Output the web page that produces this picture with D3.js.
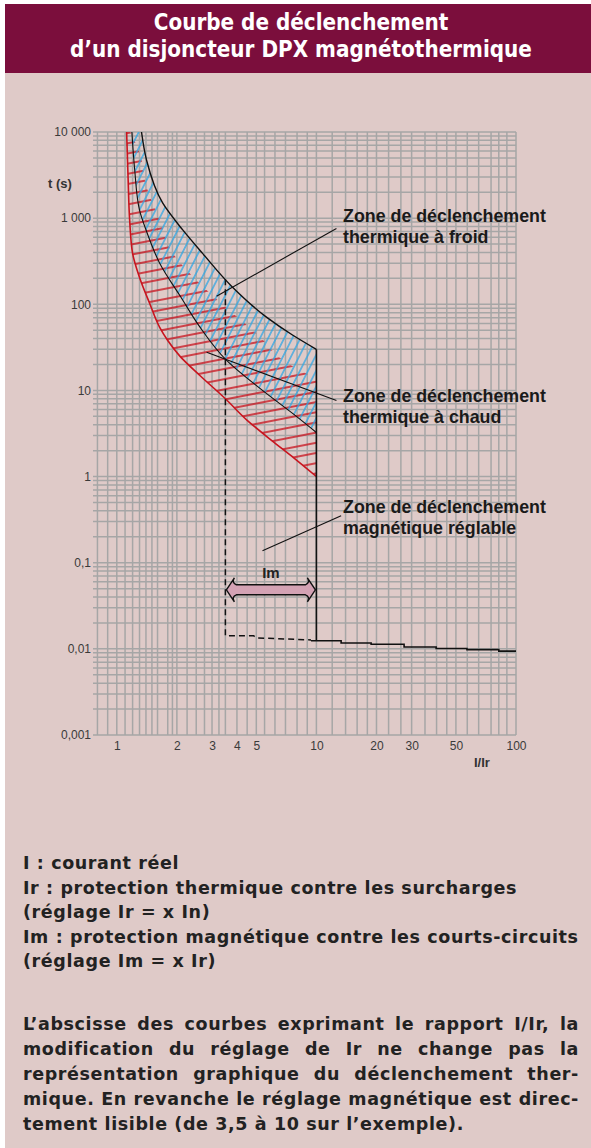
<!DOCTYPE html>
<html>
<head>
<meta charset="utf-8">
<script src="https://cdn.jsdelivr.net/npm/d3@7"></script>
<style>
  body { margin: 0; background: #fff; }
  svg { display: block; }
</style>
</head>
<body>
<script>
// courbe de declenchement DPX - log/log

var W = 591, H = 1148;

// ticks
var yTicks = [0.001, 0.01, 0.1, 1, 10, 100, 1000, 10000];
var xTicks = [1, 2, 3, 4, 5, 10, 20, 30, 50, 100];
var gridX = [0.8, 0.9, 1, 1.1, 1.2, 1.3, 1.4, 1.5, 1.6, 1.8, 1.9, 2, 2.25, 2.5, 2.75, 3, 3.25, 3.5, 4, 4.5, 5, 5.5, 6.2, 7, 8, 9,
             10, 12, 14, 16, 18, 20, 23, 26.5, 30, 35, 40, 45, 50, 57, 65, 75, 82, 90, 100];

// thermique a froid (limite haute, noire)
var coldI = [1.33, 1.41, 1.70, 2.14, 2.69, 3.8, 5.62, 7.59, 10];
var coldT = [10000, 4700, 1490, 730, 390, 158, 71, 44, 30];
// courbe intermediaire (noire)
var midI = [1.19, 1.23, 1.30, 1.41, 1.64, 2.1, 2.6, 3.55, 5.37, 7.94, 10];
var midT = [10000, 3600, 1240, 700, 300, 120, 55, 22.3, 10, 5.0, 3.25];
// thermique a chaud (limite basse, rouge)
var hotI = [1.12, 1.14, 1.16, 1.20, 1.30, 1.46, 1.64, 1.8, 2.07, 2.6, 3.5, 4.5, 6.0, 7.7, 10];
var hotT = [10000, 2770, 950, 390, 205, 103, 54, 38, 25, 15, 8, 4.5, 2.6, 1.65, 1.0];
// bord droit du hachurage rouge
var hotEdgeI = [1.17, 1.30, 1.41, 1.64, 1.91, 2.51, 3.8, 5.0, 7.1, 10];
var hotEdgeT = [10000, 5700, 2300, 950, 390, 190, 79, 46, 21, 13.8];

// magnetique
var imMin = 3.5, imMax = 10;
var dashI = [3.5, 3.5, 4.85, 5.0, 9.4];
var dashT = [195, 0.0142, 0.0142, 0.0134, 0.0127];
var magI = [9.4, 13.3, 18.8, 27.5, 39.8, 56.8, 82, 100];
var magT = [0.0124, 0.0117, 0.0113, 0.0105, 0.0101, 0.0098, 0.0094, 0.0094];
var arrowT = 0.0485;

// annotations (I, t)
var leaderFroid = [[12.6, 760], [3.16, 124]];
var leaderChaud = [[2.82, 27.7], [12.6, 7.65]];
var leaderMagn = [[13.3, 0.352], [5.37, 0.138]];

var notes = [
  "I : courant réel",
  "Ir : protection thermique contre les surcharges",
  "(réglage Ir = x In)",
  "Im : protection magnétique contre les courts-circuits",
  "(réglage Im = x Ir)"
];
var para = [
  "L’abscisse des courbes exprimant le rapport I/Ir, la",
  "modification du réglage de Ir ne change pas la",
  "représentation graphique du déclenchement ther-",
  "mique. En revanche le réglage magnétique est direc-",
  "tement lisible (de 3,5 à 10 sur l’exemple)."
];

var svg = d3.select("body").append("svg")
    .attr("width", W)
    .attr("height", H);

svg.append("rect").attr("x", 0).attr("y", 0).attr("width", W).attr("height", H).attr("fill", "#fff");
svg.append("rect").attr("x", 5).attr("y", 4).attr("width", W - 5).attr("height", H - 4).attr("fill", "#dfcac8");
svg.append("rect").attr("x", 5).attr("y", 4).attr("width", W - 5).attr("height", 69).attr("fill", "#7b0e3c");

// title
var titleLines = ["Courbe de déclenchement", "d’un disjoncteur DPX magnétothermique"];
var title = svg.append("g")
    .attr("font-family", "'DejaVu Sans Condensed', 'DejaVu Sans', sans-serif")
    .attr("font-weight", "bold")
    .attr("fill", "#fff")
    .attr("text-anchor", "middle");
var tt = title.selectAll("text").data(titleLines).enter().append("text")
    .attr("x", 301)
    .attr("y", function (d, i) { return 30 + i * 27; })
    .attr("font-size", 20)
    .text(function (d) { return d; });
var tw = tt.nodes()[1].getComputedTextLength();
tt.attr("font-size", 20 * 462 / tw);

// scales
var x = d3.scaleLog().domain([0.76, 100]).range([93, 516]);
var y = d3.scaleLog().domain([0.001, 10000]).range([735, 132]);

var gridY = [];
yTicks.forEach(function (d) {
  if (d === 10000) { gridY.push(d); return; }
  for (var k = 1; k < 10; k++) gridY.push(d * k);
});

var grid = svg.append("g").attr("stroke", "#a6a6a6").attr("stroke-width", 1.5);
grid.selectAll(".gx").data(gridX).enter().append("line")
    .attr("x1", function (d) { return x(d); }).attr("x2", function (d) { return x(d); })
    .attr("y1", y(10000)).attr("y2", y(0.001));
grid.selectAll(".gy").data(gridY).enter().append("line")
    .attr("y1", function (d) { return y(d); }).attr("y2", function (d) { return y(d); })
    .attr("x1", x(0.76)).attr("x2", x(100));

// axes
var fr = d3.formatLocale({ decimal: ",", thousands: " ", grouping: [3], currency: ["", "€"] });
var yAxis = d3.axisLeft(y).tickValues(yTicks).tickSize(0).tickPadding(2)
    .tickFormat(function (d) { return d >= 1 ? fr.format(",d")(d) : fr.format(",")(d); });
var gy = svg.append("g").attr("transform", "translate(" + x(0.76) + ",0)").call(yAxis);
var xAxis = d3.axisBottom(x).tickValues(xTicks).tickSize(0).tickPadding(6).tickFormat(d3.format("d"));
var gx = svg.append("g").attr("transform", "translate(0," + y(0.001) + ")").call(xAxis);
[gy, gx].forEach(function (g) {
  g.select(".domain").remove();
  g.selectAll("text").attr("font-family", "'Liberation Sans', Arial, sans-serif")
    .attr("font-size", 12).attr("fill", "#3a3a3a");
});

svg.append("text").attr("x", 48).attr("y", 188)
    .attr("font-family", "'Liberation Sans', Arial, sans-serif").attr("font-weight", "bold")
    .attr("font-size", 13).attr("fill", "#333").text("t (s)");
svg.append("text").attr("x", 474).attr("y", 767)
    .attr("font-family", "'Liberation Sans', Arial, sans-serif").attr("font-weight", "bold")
    .attr("font-size", 13).attr("fill", "#333").text("I/Ir");

// hatch patterns
var defs = svg.append("defs");
defs.append("pattern").attr("id", "hatchRed").attr("patternUnits", "userSpaceOnUse")
    .attr("width", 30).attr("height", 10).attr("patternTransform", "rotate(-11)")
  .append("line").attr("x1", 0).attr("y1", 5).attr("x2", 30).attr("y2", 5)
    .attr("stroke", "#c8141e").attr("stroke-width", 1.5);
defs.append("pattern").attr("id", "hatchBlue").attr("patternUnits", "userSpaceOnUse")
    .attr("width", 30).attr("height", 7.2).attr("patternTransform", "rotate(-63)")
  .append("line").attr("x1", 0).attr("y1", 3.6).attr("x2", 30).attr("y2", 3.6)
    .attr("stroke", "#2ea6e4").attr("stroke-width", 1.3);

var line = d3.line()
    .x(function (d) { return x(d[0]); })
    .y(function (d) { return y(d[1]); })
    .curve(d3.curveMonotoneY);
var straight = d3.line()
    .x(function (d) { return x(d[0]); })
    .y(function (d) { return y(d[1]); });

var coldPts = d3.zip(coldI, coldT);
var midPts = d3.zip(midI, midT);
var hotPts = d3.zip(hotI, hotT);
var hotEdgePts = d3.zip(hotEdgeI, hotEdgeT);

function band(a, b) {
  return line(a) + line(b.slice().reverse()).replace(/^M/, "L") + "Z";
}

svg.append("path").attr("d", band(hotPts, hotEdgePts)).attr("fill", "url(#hatchRed)");
svg.append("path").attr("d", band(midPts, coldPts)).attr("fill", "url(#hatchBlue)");

svg.append("path").attr("d", line(hotPts)).attr("fill", "none")
    .attr("stroke", "#c8141e").attr("stroke-width", 1.6);
svg.append("path").attr("d", line(midPts)).attr("fill", "none")
    .attr("stroke", "#111").attr("stroke-width", 1.1);
svg.append("path").attr("d", line(coldPts)).attr("fill", "none")
    .attr("stroke", "#111").attr("stroke-width", 1.4);

// magnetique
svg.append("path").attr("d", straight([[imMax, coldT[coldT.length - 1]], [imMax, magT[0]]]))
    .attr("fill", "none").attr("stroke", "#111").attr("stroke-width", 1.6);
svg.append("path").attr("d", straight.curve(d3.curveStepAfter)(d3.zip(magI, magT)))
    .attr("fill", "none").attr("stroke", "#111").attr("stroke-width", 1.6);
straight.curve(d3.curveLinear);
svg.append("path").attr("d", straight(d3.zip(dashI, dashT)))
    .attr("fill", "none").attr("stroke", "#111").attr("stroke-width", 1.5)
    .attr("stroke-dasharray", "6,4");

// fleche Im
var x1 = x(imMin) + 1, x2 = x(imMax) - 1, yc = y(arrowT);
var ar = "M" + x1 + "," + yc +
  " L" + (x1 + 8) + "," + (yc - 12) +
  " Q" + (x1 + 5) + "," + (yc - 7) + " " + (x1 + 10) + "," + (yc - 5) +
  " L" + (x2 - 10) + "," + (yc - 5) +
  " Q" + (x2 - 5) + "," + (yc - 7) + " " + (x2 - 8) + "," + (yc - 12) +
  " L" + x2 + "," + yc +
  " L" + (x2 - 8) + "," + (yc + 12) +
  " Q" + (x2 - 5) + "," + (yc + 7) + " " + (x2 - 10) + "," + (yc + 5) +
  " L" + (x1 + 10) + "," + (yc + 5) +
  " Q" + (x1 + 5) + "," + (yc + 7) + " " + (x1 + 8) + "," + (yc + 12) + " Z";
svg.append("path").attr("d", ar).attr("fill", "#d4a2b4").attr("stroke", "#111").attr("stroke-width", 1.4);
svg.append("text").attr("x", (x1 + x2) / 2).attr("y", yc - 12)
    .attr("text-anchor", "middle")
    .attr("font-family", "'Liberation Sans', Arial, sans-serif").attr("font-weight", "bold")
    .attr("font-size", 15).attr("fill", "#222").text("Im");

// leaders + labels
[leaderFroid, leaderChaud, leaderMagn].forEach(function (l) {
  svg.append("path").attr("d", straight(l)).attr("fill", "none")
      .attr("stroke", "#111").attr("stroke-width", 1.1);
});

var labels = [
  { y: 222, lines: ["Zone de déclenchement", "thermique à froid"] },
  { y: 402, lines: ["Zone de déclenchement", "thermique à chaud"] },
  { y: 513, lines: ["Zone de déclenchement", "magnétique réglable"] }
];
var lab = svg.append("g")
    .attr("font-family", "'Liberation Sans', Arial, sans-serif")
    .attr("font-weight", "bold").attr("fill", "#1a1a1a");
var labT = [];
labels.forEach(function (L) {
  L.lines.forEach(function (s, i) {
    labT.push(lab.append("text").attr("x", 343).attr("y", L.y + i * 21).attr("font-size", 16).text(s));
  });
});
var lw = labT[0].node().getComputedTextLength();
labT.forEach(function (t) { t.attr("font-size", 16 * 203 / lw); });

// texte bas
var txtFont = "'DejaVu Sans', sans-serif";
var fs = 17.5;
var ng = svg.append("g").attr("font-family", txtFont).attr("font-weight", "bold")
    .attr("fill", "#222").attr("font-size", fs);
var nt = ng.selectAll("text").data(notes).enter().append("text")
    .attr("x", 23)
    .attr("y", function (d, i) { return 869 + i * 24.5; })
    .text(function (d) { return d; });
var nw = nt.nodes()[3].getComputedTextLength();
var ls = (555 - nw) / (notes[3].length - 1);
nt.attr("letter-spacing", ls);

var pg = svg.append("g").attr("font-family", txtFont).attr("font-weight", "bold")
    .attr("fill", "#222").attr("font-size", fs).attr("letter-spacing", ls);
para.forEach(function (s, i) {
  var yy = 1030 + i * 25;
  if (i === para.length - 1) {
    pg.append("text").attr("x", 23).attr("y", yy).text(s);
    return;
  }
  var words = s.split(" ");
  var ts = words.map(function (w) { return pg.append("text").attr("y", yy).text(w); });
  var ws = ts.map(function (t) { return t.node().getComputedTextLength(); });
  var gap = (579 - 23 - d3.sum(ws)) / (words.length - 1);
  var xx = 23;
  ts.forEach(function (t, k) { t.attr("x", xx); xx += ws[k] + gap; });
});
</script>
</body>
</html>
